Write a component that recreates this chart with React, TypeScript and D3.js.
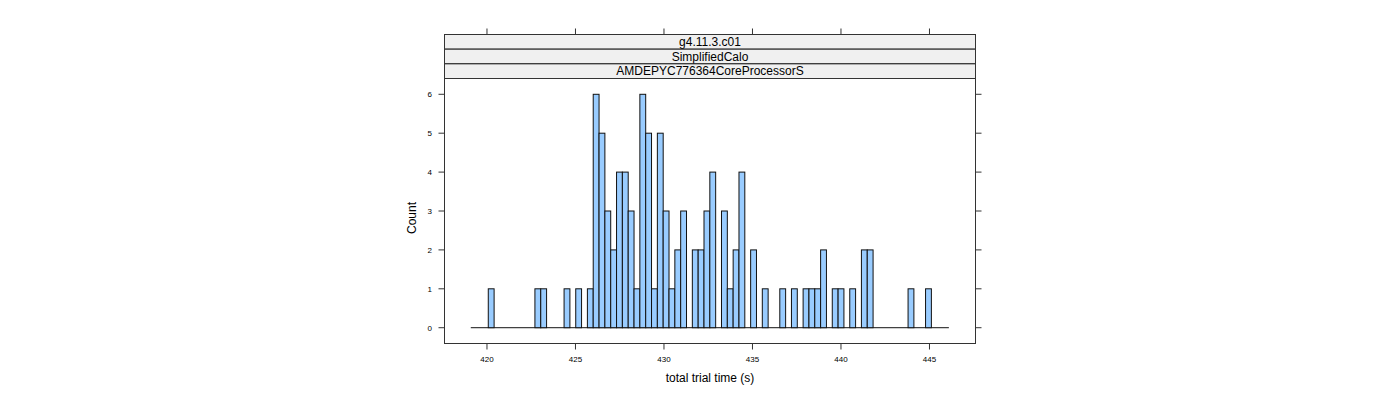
import React from "react";
import * as d3 from "d3";

const stripLabels: string[] = ["g4.11.3.c01", "SimplifiedCalo", "AMDEPYC776364CoreProcessorS"];
const binStart = 419.085;
const binWidth = 0.3294;
const counts: number[] = [
  0, 0, 0, 1, 0, 0, 0, 0, 0, 0,
  0, 1, 1, 0, 0, 0, 1, 0, 1, 0,
  1, 6, 5, 3, 2, 4, 4, 3, 1, 6,
  5, 1, 5, 3, 1, 2, 3, 0, 2, 2,
  3, 4, 0, 3, 1, 2, 4, 0, 2, 0,
  1, 0, 0, 1, 0, 1, 0, 1, 1, 1,
  2, 0, 1, 1, 0, 1, 0, 2, 2, 0,
  0, 0, 0, 0, 0, 1, 0, 0, 1, 0,
  0, 0,
];
const xTicks: number[] = [420, 425, 430, 435, 440, 445];
const yTicks: number[] = [0, 1, 2, 3, 4, 5, 6];
const xLabel = "total trial time (s)";
const yLabel = "Count";

export default function App() {
  const left = 444.5, right = 975.5, top = 78.5, bottom = 343.5, stripTop = 34.5;
  const x = d3.scaleLinear().domain([417.6, 447.6]).range([left, right]);
  const y = d3.scaleLinear().domain([-0.406, 6.406]).range([bottom, top]);
  const stripH = (top - stripTop) / stripLabels.length;
  const font = "'Liberation Sans', Arial, Helvetica, sans-serif";
  const axisCol = "#333";
  const binEnd = binStart + counts.length * binWidth;
  return (
    <svg width={1400} height={400} style={{ position: "absolute", left: 0, top: 0 }} fontFamily={font}>
      <rect x={0} y={0} width={1400} height={400} fill="white" />
      {/* strips */}
      {stripLabels.map((s, i) => (
        <g key={s}>
          <rect x={left} y={stripTop + i * stripH} width={right - left} height={stripH} fill="#F0F0F0" stroke="#222" strokeWidth={1} />
          <text x={(left + right) / 2} y={stripTop + i * stripH + stripH / 2 + 4.3} textAnchor="middle" fontSize={12} fill="#000">{s}</text>
        </g>
      ))}
      {/* zero-height bins as baseline */}
      <line x1={x(binStart)} x2={x(binEnd)} y1={y(0)} y2={y(0)} stroke="#111" strokeWidth={1} />
      {/* bars */}
      {counts.map((c, i) => {
        if (c === 0) return null;
        const x0 = x(binStart + i * binWidth);
        const x1 = x(binStart + (i + 1) * binWidth);
        return (
          <rect key={i} x={x0} y={y(c)} width={x1 - x0} height={y(0) - y(c)} fill="#99CCFF" stroke="#111" strokeWidth={1} />
        );
      })}
      {/* panel border */}
      <rect x={left} y={top} width={right - left} height={bottom - top} fill="none" stroke={axisCol} strokeWidth={1} />
      <rect x={left} y={stripTop} width={right - left} height={bottom - stripTop} fill="none" stroke={axisCol} strokeWidth={1} />
      {/* x ticks */}
      {xTicks.map((t) => (
        <g key={t}>
          <line x1={x(t)} x2={x(t)} y1={bottom} y2={bottom + 6} stroke={axisCol} />
          <line x1={x(t)} x2={x(t)} y1={stripTop} y2={stripTop - 6} stroke={axisCol} />
          <text x={x(t)} y={bottom + 18} textAnchor="middle" fontSize={8} fill="#000">{t}</text>
        </g>
      ))}
      {/* y ticks */}
      {yTicks.map((t) => (
        <g key={t}>
          <line x1={left} x2={left - 6} y1={y(t)} y2={y(t)} stroke={axisCol} />
          <line x1={right} x2={right + 6} y1={y(t)} y2={y(t)} stroke={axisCol} />
          <text x={432} y={y(t) + 3} textAnchor="end" fontSize={8} fill="#000">{t}</text>
        </g>
      ))}
      <text x={(left + right) / 2} y={382} textAnchor="middle" fontSize={12} fill="#000">{xLabel}</text>
      <text transform={`translate(416,${(top + bottom) / 2 + 7}) rotate(-90)`} textAnchor="middle" fontSize={12} fill="#000">{yLabel}</text>
    </svg>
  );
}
